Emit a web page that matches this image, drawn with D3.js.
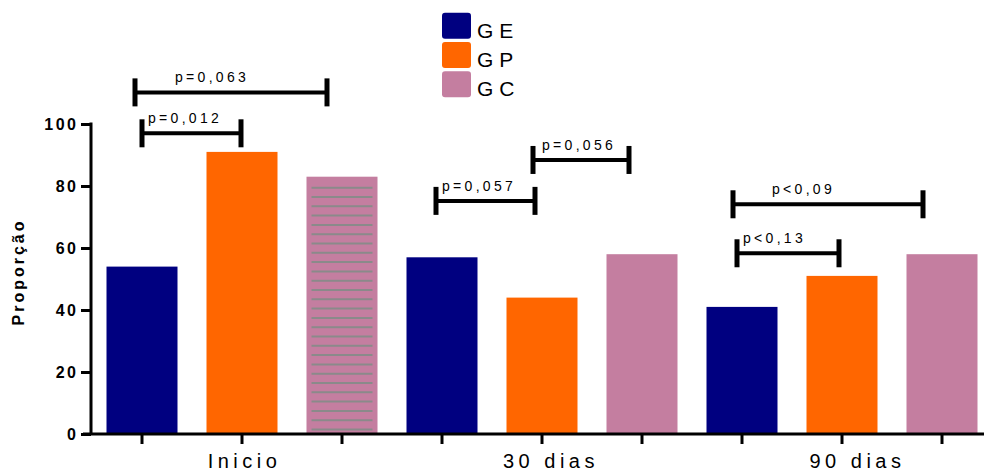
<!DOCTYPE html>
<html>
<head>
<meta charset="utf-8">
<script src="https://cdn.jsdelivr.net/npm/d3@7"></script>
<style>
  html, body { margin: 0; padding: 0; background: #fff; }
  svg { display: block; font-family: "Liberation Sans", Arial, sans-serif; }
</style>
</head>
<body>
<svg id="chart" width="984" height="472"></svg>
<script>
// Time points and groups
const periods = ["Inicio", "30 dias", "90 dias"];
const groups = ["G E", "G P", "G C"];
const groupColors = ["#000080", "#FF6600", "#C47EA0"];

// Proportion per group at each time point (rows follow `periods`)
const valuesInicio = [54, 91, 83];
const values30 = [57, 44, 58];
const values90 = [41, 51, 58];
const seriesValues = [valuesInicio, values30, values90];

const yTicks = [0, 20, 40, 60, 80, 100];

// Comparison brackets: span in bar slots (0..8), height in data units,
// label start in bar slots
const bracketLabels = ["p=0,063", "p=0,012", "p=0,057", "p=0,056", "p<0,09", "p<0,13"];
const bracketFrom   = [-0.07, 0.0, 2.94, 3.91, 5.91, 5.95];
const bracketTo     = [1.85, 0.99, 3.93, 4.87, 7.81, 6.97];
const bracketLevel  = [110.2, 97.0, 75.2, 88.4, 74.1, 58.3];
const bracketText   = [0.33, 0.06, 3.0, 4.0, 6.3, 6.01];

const FONT = "'Liberation Sans', Arial, sans-serif";
const svg = d3.select("#chart");

// Flatten into one bar per slot
const bars = [];
periods.forEach((p, pi) => {
  groups.forEach((g, gi) => {
    bars.push({ key: p + "|" + g, period: p, group: g, gi, value: seriesValues[pi][gi] });
  });
});

const x = d3.scaleBand()
  .domain(bars.map(d => d.key))
  .range([92, 992])
  .paddingInner(0.29)
  .paddingOuter(0.145);

const y = d3.scaleLinear().domain([0, 100]).range([434, 124]);

// slot position (continuous) -> pixel center
const slotX = v => x(bars[0].key) + x.bandwidth() / 2 + v * x.step();

// Bars
svg.append("g").selectAll("rect")
  .data(bars)
  .join("rect")
  .attr("x", d => x(d.key))
  .attr("y", d => y(d.value))
  .attr("width", x.bandwidth())
  .attr("height", d => y(0) - y(d.value))
  .attr("fill", d => groupColors[d.gi]);

// Horizontal hatch on the baseline GC bar
const hatched = bars[2];
const hx0 = x(hatched.key) + 5, hx1 = x(hatched.key) + x.bandwidth() - 5;
const hStep = y(0) - y(3);
const hatchYs = d3.range(y(hatched.value) + 11, y(0) - 1, hStep);
svg.append("g").selectAll("line")
  .data(hatchYs)
  .join("line")
  .attr("x1", hx0).attr("x2", hx1)
  .attr("y1", d => d).attr("y2", d => d)
  .attr("stroke", "#8a8a8a")
  .attr("stroke-width", 2);

// Y axis
const yAxis = svg.append("g").attr("transform", "translate(91,0)")
  .call(d3.axisLeft(y).tickValues(yTicks).tickSize(10).tickSizeOuter(0).tickPadding(5));
yAxis.attr("font-family", FONT);
yAxis.select(".domain").attr("stroke", "#000").attr("stroke-width", 3)
  .attr("d", `M0,${y(100) - 1.5}V${y(0)}`);
yAxis.selectAll(".tick line").attr("stroke", "#000").attr("stroke-width", 3);
yAxis.selectAll(".tick text")
  .attr("fill", "#000")
  .attr("font-size", 16)
  .attr("font-weight", "bold")
  .attr("letter-spacing", 2.5)
  .attr("x", -12.5)
  .attr("dy", "0.36em");

// X axis
const xAxisG = svg.append("g").attr("transform", `translate(0,${y(0)})`);
xAxisG.append("line")
  .attr("x1", 83).attr("x2", 984)
  .attr("stroke", "#000").attr("stroke-width", 3);
xAxisG.selectAll("line.tick")
  .data(bars)
  .join("line")
  .attr("class", "tick")
  .attr("x1", d => x(d.key) + x.bandwidth() / 2)
  .attr("x2", d => x(d.key) + x.bandwidth() / 2)
  .attr("y1", 0).attr("y2", 10)
  .attr("stroke", "#000").attr("stroke-width", 3);

// Period labels under each group
svg.append("g").selectAll("text")
  .data(periods)
  .join("text")
  .attr("x", (p, i) => slotX(1 + i * 3.065) + 2.5)
  .attr("y", 468)
  .attr("text-anchor", "middle")
  .attr("font-size", 20)
  .attr("letter-spacing", 4.5)
  .attr("fill", "#000")
  .text(d => d);

// Y axis title
svg.append("text")
  .attr("transform", "translate(24,272) rotate(-90)")
  .attr("text-anchor", "middle")
  .attr("font-size", 16)
  .attr("font-weight", "bold")
  .attr("letter-spacing", 3)
  .attr("fill", "#000")
  .text("Proporção");

// Brackets
const bracketData = bracketLabels.map((t, i) => ({
  label: t, from: bracketFrom[i], to: bracketTo[i], level: bracketLevel[i], tx: bracketText[i]
}));
const br = svg.append("g").selectAll("g")
  .data(bracketData)
  .join("g");
br.append("line")
  .attr("x1", d => slotX(d.from)).attr("x2", d => slotX(d.to))
  .attr("y1", d => y(d.level)).attr("y2", d => y(d.level))
  .attr("stroke", "#000").attr("stroke-width", 4);
br.append("line")
  .attr("x1", d => slotX(d.from)).attr("x2", d => slotX(d.from))
  .attr("y1", d => y(d.level) - 14).attr("y2", d => y(d.level) + 14)
  .attr("stroke", "#000").attr("stroke-width", 5);
br.append("line")
  .attr("x1", d => slotX(d.to)).attr("x2", d => slotX(d.to))
  .attr("y1", d => y(d.level) - 14).attr("y2", d => y(d.level) + 14)
  .attr("stroke", "#000").attr("stroke-width", 5);
br.append("text")
  .attr("x", d => slotX(d.tx))
  .attr("y", d => y(d.level) - 10)
  .attr("font-size", 14)
  .attr("letter-spacing", 3.3)
  .attr("fill", "#000")
  .text(d => d.label);

// Legend
const legend = svg.append("g").selectAll("g")
  .data(groups)
  .join("g")
  .attr("transform", (d, i) => `translate(442,${12.7 + i * 29.3})`);
legend.append("rect")
  .attr("width", 29).attr("height", 26).attr("rx", 3)
  .attr("fill", (d, i) => groupColors[i]);
legend.append("text")
  .attr("x", 35).attr("y", 25)
  .attr("font-size", 21)
  .attr("fill", "#000")
  .text(d => d);
</script>
</body>
</html>
